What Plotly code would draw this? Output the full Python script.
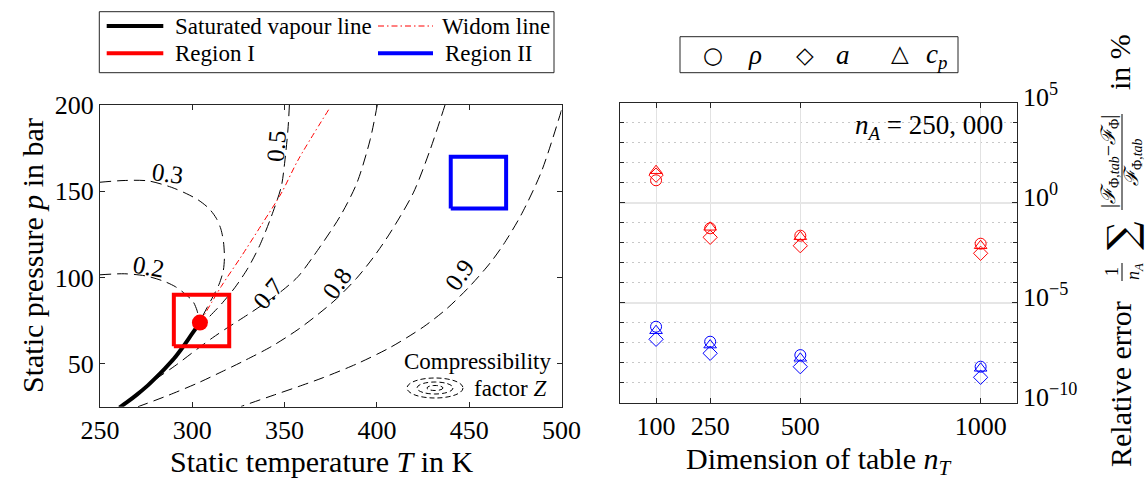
import plotly.graph_objects as go

W, H = 1146, 479
SERIF = "Liberation Serif, Times New Roman, serif"

# ---------------- left panel: p-T diagram of CO2 ----------------
# compressibility factor Z iso-lines (T in K, p in bar)
z02_T = [250, 263.4, 275, 285, 291, 296, 300.4, 302.5, 303.5]
z02_p = [101.5, 102.1, 100.8, 97.6, 94.5, 90.5, 86.0, 81.0, 76.5]
z03_T = [250, 263, 276, 288.6, 297, 303.1, 309, 313, 315.5, 316.9, 317.4, 316.8, 314.5, 311.2, 308, 305.3]
z03_p = [155.2, 156.2, 156.0, 152.3, 148.5, 145.0, 140.0, 134.3, 128.0, 120.5, 111.5, 104.0, 96.0, 88.9, 82.5, 77.0]
z05_T = [352.6, 351.8, 350.0, 348.2, 342.8, 336.5, 330.2, 323.0, 315.7, 309.5, 305.5]
z05_p = [200, 185.5, 166.2, 152.7, 135.3, 118.5, 105.5, 94.0, 84.5, 77.5, 73.0]
z07_T = [400.2, 396.3, 389.1, 380, 365.5, 357.3, 349, 341, 330.2, 319.3, 311, 303.1, 290.5, 281, 272.4]
z07_p = [200, 179.7, 154.6, 135.3, 112.1, 100.5, 92.6, 86.3, 78.5, 71.0, 65.0, 58.8, 48.6, 41.6, 34.9]
z08_T = [436.9, 428.8, 419.7, 407.1, 398, 389, 378, 368, 357.3, 343, 328.4, 316, 303.1, 287, 270.6]
z08_p = [200, 173.9, 149.0, 125.7, 111.5, 99.5, 87.5, 78.5, 69.8, 60.0, 51.8, 45.3, 38.8, 31.6, 25.0]
z09_T = [500, 489, 478, 468.5, 461.3, 450, 437.8, 425.1, 407.1, 389, 371, 357.3, 344.6, 326.5]
z09_p = [197, 161, 136, 119.0, 108.3, 94.5, 81.8, 71.2, 59.3, 49.8, 41.9, 36.6, 31.9, 25.2]

z_labels = ["0.2", "0.3", "0.5", "0.7", "0.8", "0.9"]
z_label_T = [276.0, 286.8, 345.5, 341.0, 378.2, 445.0]
z_label_p = [106.3, 160.4, 175.9, 90.9, 96.7, 101.5]
z_label_angle = [10, 8, -85, -50, -55, -55]

# saturated vapour line up to the critical point, Widom line beyond it
sat_T = [260.5, 265, 270, 275, 280, 285, 290, 295, 300, 304.13]
sat_p = [24.5, 27.9, 32.0, 36.5, 41.6, 47.0, 52.8, 59.8, 67.5, 73.77]
widom_T = [304.13, 315.7, 326.5, 337.5, 348.2, 357.3, 374.0]
widom_p = [73.77, 94.8, 112.1, 130.5, 148.8, 168.1, 197.5]
crit_T = [304.13]
crit_p = [73.77]

# operating regions (T range, p range)
region1_T = [290, 320]
region1_p = [60, 90]
region2_T = [440, 470]
region2_p = [140, 170]

# ---------------- right panel: table interpolation error ----------------
table_dim = [100, 250, 500, 1000]
err_rho_I = [13.2, 0.0525, 0.0224, 0.0089]
err_a_I = [24.0, 0.0186, 0.00708, 0.00295]
err_cp_I = [39.8, 0.0589, 0.0200, 0.00708]
err_rho_II = [6.3e-7, 1.12e-7, 2.4e-8, 6.3e-9]
err_a_II = [1.48e-7, 2.95e-8, 6.3e-9, 1.86e-9]
err_cp_II = [3.98e-7, 7.6e-8, 1.66e-8, 5.25e-9]

x_ticks_left = [250, 300, 350, 400, 450, 500]
y_ticks_left = [50, 100, 150, 200]
y_ticks_right = [1e-10, 1e-5, 1, 1e5]
y_ticktext_right = ["10<sup>−10</sup>", "10<sup>−5</sup>", "10<sup>0</sup>", "10<sup>5</sup>"]
y_minor_right = [10.0 ** k for k in range(-9, 5) if k % 5 != 0]


def fx(x):
    return x / W


def fy(y):
    return 1 - y / H


fig = go.Figure()

dash_contour = "11px,6px"
for T, p in [(z02_T, z02_p), (z03_T, z03_p), (z05_T, z05_p),
             (z07_T, z07_p), (z08_T, z08_p), (z09_T, z09_p)]:
    fig.add_trace(go.Scatter(x=T, y=p, mode="lines", xaxis="x", yaxis="y",
                             line=dict(color="black", width=1, dash=dash_contour,
                                       shape="spline", smoothing=0.8),
                             showlegend=False, hoverinfo="skip"))

fig.add_trace(go.Scatter(x=widom_T, y=widom_p, mode="lines", xaxis="x", yaxis="y",
                         line=dict(color="red", width=1, dash="6px,3px,1.5px,3px",
                                   shape="spline", smoothing=0.8),
                         showlegend=False, hoverinfo="skip"))
fig.add_trace(go.Scatter(x=sat_T, y=sat_p, mode="lines", xaxis="x", yaxis="y",
                         line=dict(color="black", width=4, shape="spline", smoothing=0.8),
                         showlegend=False, hoverinfo="skip"))


def box(Tr, pr):
    return ([Tr[0], Tr[1], Tr[1], Tr[0], Tr[0]],
            [pr[0], pr[0], pr[1], pr[1], pr[0]])


for (Tr, pr), col in [((region1_T, region1_p), "red"), ((region2_T, region2_p), "blue")]:
    bx, by = box(Tr, pr)
    fig.add_trace(go.Scatter(x=bx, y=by, mode="lines", xaxis="x", yaxis="y",
                             line=dict(color=col, width=4),
                             showlegend=False, hoverinfo="skip"))

fig.add_trace(go.Scatter(x=crit_T, y=crit_p, mode="markers", xaxis="x", yaxis="y",
                         marker=dict(color="red", size=16, line=dict(width=0)),
                         showlegend=False, hoverinfo="skip"))

# error markers
series = [
    (err_rho_I, "circle-open", "red"), (err_a_I, "diamond-open", "red"),
    (err_cp_I, "triangle-up-open", "red"),
    (err_rho_II, "circle-open", "blue"), (err_a_II, "diamond-open", "blue"),
    (err_cp_II, "triangle-up-open", "blue"),
]
for vals, sym, col in series:
    fig.add_trace(go.Scatter(x=table_dim, y=vals, mode="markers", xaxis="x2", yaxis="y2",
                             marker=dict(symbol=sym, size=11, color=col,
                                         line=dict(color=col, width=1)),
                             showlegend=False, hoverinfo="skip"))

axis_common = dict(ticks="inside", ticklen=5, tickcolor="#262626", showline=True,
                   linecolor="#262626", linewidth=1, mirror="allticks", zeroline=False,
                   automargin=False,
                   tickfont=dict(family=SERIF, size=26, color="black"))

fig.update_layout(
    width=W, height=H, margin=dict(l=0, r=0, t=0, b=0, autoexpand=False),
    paper_bgcolor="white", plot_bgcolor="white",
    font=dict(family=SERIF, color="black"),
    xaxis=dict(domain=[fx(100), fx(561.5)], range=[250, 500], tickvals=x_ticks_left,
               showgrid=False, anchor="y", **axis_common),
    yaxis=dict(domain=[fy(406.7), fy(105)], range=[25, 200], tickvals=y_ticks_left,
               showgrid=False, anchor="x", **axis_common),
    xaxis2=dict(domain=[fx(620), fx(1016.7)], range=[0, 1100], tickvals=table_dim,
                showgrid=True, gridcolor="#e2e2e2", gridwidth=1, anchor="y2", **axis_common),
    yaxis2=dict(domain=[fy(402.7), fy(102.7)], type="log", range=[-10, 5], side="right",
                tickvals=y_ticks_right, ticktext=y_ticktext_right, ticklabelshift=-6,
                showgrid=True, gridcolor="#e6e6e6", gridwidth=2, anchor="x2",
                minor=dict(tickmode="array", tickvals=y_minor_right, ticks="inside", ticklen=4,
                           tickcolor="#262626", showgrid=True, gridcolor="#c8c8c8",
                           griddash="2px,4px", gridwidth=1),
                **axis_common),
)

ann = []
shapes = []


def text(x, y, s, size, xanchor="center", angle=0, family=SERIF, yanchor="middle"):
    ann.append(dict(x=fx(x), y=fy(y), xref="paper", yref="paper", text=s, showarrow=False,
                    xanchor=xanchor, yanchor=yanchor, textangle=angle,
                    font=dict(family=family, size=size, color="black")))


# contour labels
for s, T, p, a in zip(z_labels, z_label_T, z_label_p, z_label_angle):
    ann.append(dict(x=T, y=p, xref="x", yref="y", text=s, showarrow=False, textangle=a,
                    xanchor="center", yanchor="middle",
                    font=dict(family=SERIF, size=25, color="black")))

# axis titles
text(33, 256, "Static pressure <i>p</i> in bar", 30, angle=-90)
text(322, 461, "Static temperature <i>T</i> in K", 30)
text(818, 461, "Dimension of table <i>n<sub>T</sub></i>", 30)

# right axis title built from pieces
text(1120, 384, "Relative error", 30, angle=-90)
text(1112, 272, "1", 18, angle=-90)
text(1134, 272, "<i>n<sub>A</sub></i>", 18, angle=-90)
shapes.append(dict(type="line", xref="paper", yref="paper", x0=fx(1122), x1=fx(1122),
                   y0=fy(263), y1=fy(281), line=dict(color="black", width=1)))
text(1122, 236, "∑", 40, angle=-90, family="DejaVu Serif")
text(1110, 162, "|<i>ℱ</i><sub>Φ,<i>tab</i></sub>−<i>ℱ</i><sub>Φ</sub>|", 20, angle=-90)
shapes.append(dict(type="line", xref="paper", yref="paper", x0=fx(1122), x1=fx(1122),
                   y0=fy(114), y1=fy(210), line=dict(color="black", width=1)))
text(1133, 162, "<i>ℱ</i><sub>Φ,<i>tab</i></sub>", 20, angle=-90)
text(1120, 62, "in %", 30, angle=-90)

# annotation inside right panel
text(1005, 127, "<i>n<sub>A</sub></i> = 250, 000", 27, xanchor="right")

# Compressibility factor note with dashed ellipse icon
text(401.7, 361.7, "Compressibility", 23, xanchor="left")
text(471.7, 388.3, "factor <i>Z</i>", 23, xanchor="left")
for w, h in [(56, 20), (36, 12), (16, 5)]:
    shapes.append(dict(type="circle", xref="paper", yref="paper",
                       x0=fx(435 - w / 2), x1=fx(435 + w / 2),
                       y0=fy(388 + h / 2), y1=fy(388 - h / 2),
                       line=dict(color="black", width=1, dash="5px,3px")))

# left legend
shapes.append(dict(type="rect", xref="paper", yref="paper", x0=fx(99.3), x1=fx(554),
                   y0=fy(72.7), y1=fy(11.7), line=dict(color="#262626", width=1),
                   fillcolor="white"))
legend_rows = [
    (106.7, 163.3, 26, "black", 4, "solid", 172.7, "Saturated vapour line"),
    (378, 433, 26, "red", 1, "6px,3px,1.5px,3px", 440, "Widom line"),
    (106.7, 163.3, 53.3, "red", 4, "solid", 172.7, "Region I"),
    (378, 433, 53.3, "blue", 4, "solid", 443.3, "Region II"),
]
for x0, x1, y, col, lw, dash, tx, label in legend_rows:
    shapes.append(dict(type="line", xref="paper", yref="paper", x0=fx(x0), x1=fx(x1),
                       y0=fy(y), y1=fy(y), line=dict(color=col, width=lw, dash=dash)))
    text(tx, y, label, 23, xanchor="left")

# right legend
shapes.append(dict(type="rect", xref="paper", yref="paper", x0=fx(680), x1=fx(958),
                   y0=fy(72.7), y1=fy(36.7), line=dict(color="#262626", width=1),
                   fillcolor="white"))
text(713.3, 55, "○", 23, family="DejaVu Sans")
text(755, 55, "<i>ρ</i>", 27)
text(805, 55, "◇", 23, family="DejaVu Sans")
text(843.3, 55, "<i>a</i>", 27)
text(900, 53, "△", 23, family="DejaVu Sans")
text(936.7, 56, "<i>c<sub>p</sub></i>", 27)

fig.update_layout(annotations=ann, shapes=shapes)

fig.write_html("out.html")
